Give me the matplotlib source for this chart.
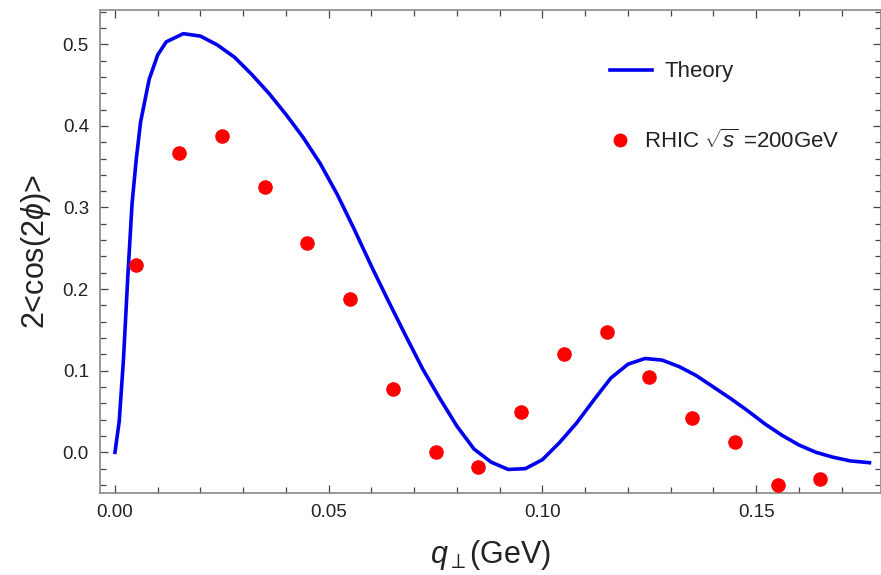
import matplotlib
matplotlib.use("Agg")
import matplotlib.pyplot as plt
from matplotlib.lines import Line2D
from matplotlib.ticker import MultipleLocator, FormatStrFormatter

plt.rcParams['font.family'] = ['Liberation Sans', 'DejaVu Sans']
plt.rcParams['mathtext.fontset'] = 'custom'
plt.rcParams['mathtext.rm'] = 'Liberation Sans'
plt.rcParams['mathtext.it'] = 'Liberation Sans:italic'
plt.rcParams['mathtext.bf'] = 'Liberation Sans:bold'

# Theory curve
theory_q = [0.0, 0.001, 0.002, 0.003, 0.004, 0.005, 0.006, 0.008, 0.010, 0.012,
            0.016, 0.020, 0.024, 0.028, 0.032, 0.036, 0.040, 0.044, 0.048, 0.052,
            0.056, 0.060, 0.064, 0.068, 0.072, 0.076, 0.080, 0.084, 0.088, 0.092,
            0.096, 0.100, 0.104, 0.108, 0.112, 0.116, 0.120, 0.124, 0.128, 0.132,
            0.136, 0.140, 0.144, 0.148, 0.152, 0.156, 0.160, 0.164, 0.168, 0.172,
            0.1765]
theory_v = [0.0, 0.038, 0.115, 0.215, 0.305, 0.36, 0.405, 0.457, 0.487, 0.503,
            0.513, 0.510, 0.499, 0.484, 0.463, 0.440, 0.414, 0.386, 0.354, 0.316,
            0.273, 0.228, 0.185, 0.143, 0.102, 0.066, 0.032, 0.004, -0.012, -0.021,
            -0.020, -0.009, 0.012, 0.036, 0.064, 0.091, 0.108, 0.115, 0.113, 0.105,
            0.094, 0.080, 0.066, 0.051, 0.035, 0.021, 0.009, 0.000, -0.006, -0.0105,
            -0.0127]

# RHIC data
data_q = [0.005, 0.015, 0.025, 0.035, 0.045, 0.055, 0.065, 0.075, 0.085,
          0.095, 0.105, 0.115, 0.125, 0.135, 0.145, 0.155, 0.165]
data_v = [0.230, 0.367, 0.387, 0.325, 0.257, 0.188, 0.078, 0.000, -0.018,
          0.050, 0.120, 0.148, 0.092, 0.042, 0.013, -0.040, -0.033]

fig = plt.figure(figsize=(8.81, 5.75), dpi=100)
ax = fig.add_axes([100/881, (575-493.3)/575, (881-100)/881, (493.3-10)/575])

line, = ax.plot(theory_q, theory_v, color='#0000ee', lw=2.6, zorder=2)
pts, = ax.plot(data_q, data_v, 'o', color='#ff0000', ms=10.5, mec='none', zorder=3)

ax.set_xlim(-0.0035, 0.1792)
ax.set_ylim(-0.0502, 0.542)

ax.xaxis.set_major_locator(MultipleLocator(0.05))
ax.xaxis.set_minor_locator(MultipleLocator(0.01))
ax.yaxis.set_major_locator(MultipleLocator(0.1))
ax.yaxis.set_minor_locator(MultipleLocator(0.02))
ax.xaxis.set_major_formatter(FormatStrFormatter('%.2f'))
ax.yaxis.set_major_formatter(FormatStrFormatter('%.1f'))

for s in ax.spines.values():
    s.set_color('#888888')
    s.set_linewidth(1.2)
ax.tick_params(which='both', direction='in', top=True, right=True,
               color='#444444', width=0.9, labelsize=13.5, labelcolor='#222222')
ax.tick_params(which='major', length=6, pad=8)
ax.tick_params(which='minor', length=4)

ax.set_xlabel(r"$q_{\perp}$(GeV)", fontsize=22, color='#222222', labelpad=12)
ax.set_ylabel(r"2<cos(2$\phi$)>", fontsize=22, color='#222222', labelpad=7)

leg1 = ax.legend([line], ['Theory'], loc='center left',
                 bbox_to_anchor=(599/881, 1-72/575), bbox_transform=fig.transFigure,
                 frameon=False, borderpad=0, handlelength=1.9, handletextpad=0.55,
                 fontsize=16)
for t in leg1.get_texts():
    t.set_color('#222222')
ax.add_artist(leg1)
h2 = Line2D([], [], ls='none', marker='o', color='#ff0000', ms=10, mec='none')
leg2 = ax.legend([h2], [r"RHIC $\sqrt{s}$ =200GeV"], loc='center left',
                 bbox_to_anchor=(598/881, 1-141/575), bbox_transform=fig.transFigure,
                 frameon=False, borderpad=0, handlelength=1.0, handletextpad=0.55,
                 fontsize=16)
for t in leg2.get_texts():
    t.set_color('#222222')

fig.savefig('out.png', dpi=100)
